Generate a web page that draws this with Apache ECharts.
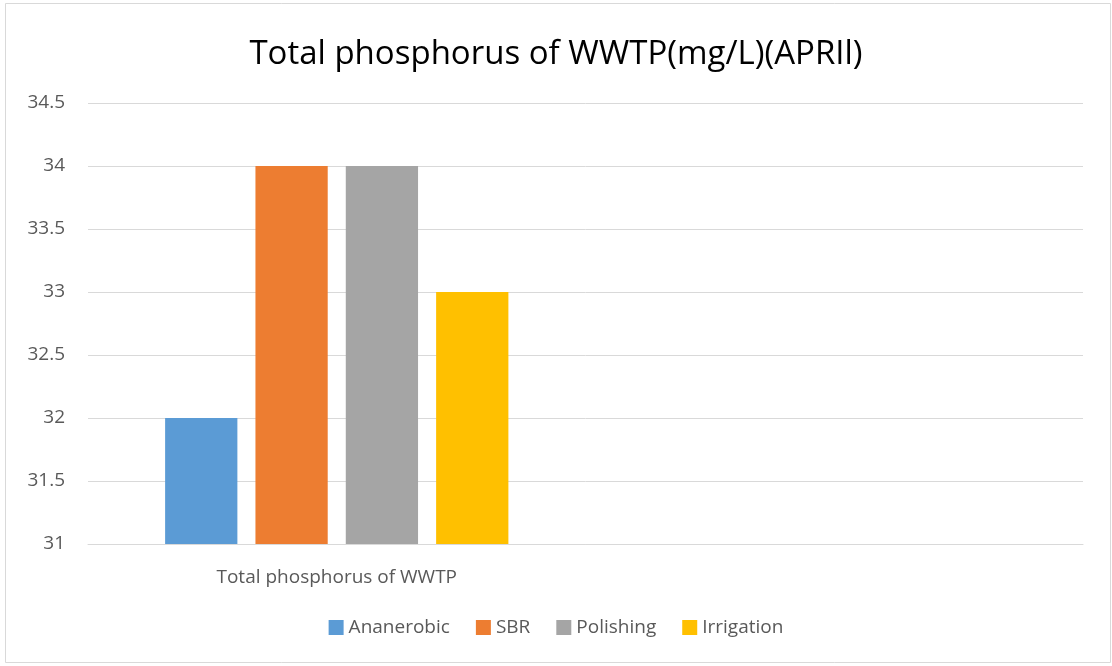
<!DOCTYPE html>
<html>
<head>
<meta charset="utf-8">
<script src="https://cdn.jsdelivr.net/npm/echarts@6/dist/echarts.min.js"></script>
<style>
  html, body { margin: 0; padding: 0; background: #fff; }
  #chart { width: 1112px; height: 666px; }
</style>
</head>
<body>
<div id="chart"></div>
<script>
// 类目：第二个空类目让柱子只占左半边
const categories = ["Total phosphorus of WWTP", ""];
const seriesNames = ["Ananerobic", "SBR", "Polishing", "Irrigation"];
const anaerobic = [32, "-"];
const sbr = [34, "-"];
const polishing = [34, "-"];
const irrigation = [33, "-"];
const colors = ["#5B9BD5", "#ED7D31", "#A5A5A5", "#FFC000"];

const font = "'Open Sans', 'Liberation Sans', sans-serif";
const chart = echarts.init(document.getElementById("chart"));

const allData = [anaerobic, sbr, polishing, irrigation];

const option = {
  backgroundColor: "#fff",
  color: colors,
  animation: false,
  title: {
    text: "Total phosphorus of WWTP(mg/L)(APRIl)",
    left: "center",
    top: 33,
    textStyle: { fontFamily: font, fontSize: 33, fontWeight: "normal", color: "#000" }
  },
  legend: {
    bottom: 24,
    left: "center",
    itemWidth: 15,
    itemHeight: 15,
    itemGap: 26,
    icon: "rect",
    textStyle: { fontFamily: font, fontSize: 19, color: "#595959" },
    data: seriesNames
  },
  grid: { left: 88, right: 29, top: 103, bottom: 122 },
  xAxis: {
    type: "category",
    data: categories,
    axisLine: { lineStyle: { color: "#d9d9d9", width: 1 } },
    axisTick: { show: false },
    axisLabel: { fontFamily: font, fontSize: 19, color: "#595959", margin: 24 }
  },
  yAxis: {
    type: "value",
    min: 31,
    max: 34.5,
    interval: 0.5,
    axisLine: { show: false },
    axisTick: { show: false },
    splitLine: { lineStyle: { color: "#d9d9d9", width: 1 } },
    axisLabel: { fontFamily: font, fontSize: 19, color: "#595959", margin: 23 }
  },
  graphic: [{
    type: "rect",
    shape: { x: 5.5, y: 3.5, width: 1105, height: 659 },
    style: { fill: "none", stroke: "#d9d9d9", lineWidth: 1 },
    silent: true
  }],
  series: seriesNames.map((name, i) => ({
    name: name,
    type: "bar",
    data: allData[i],
    barGap: "25%",
    barCategoryGap: "31%"
  }))
};

chart.setOption(option);
</script>
</body>
</html>
